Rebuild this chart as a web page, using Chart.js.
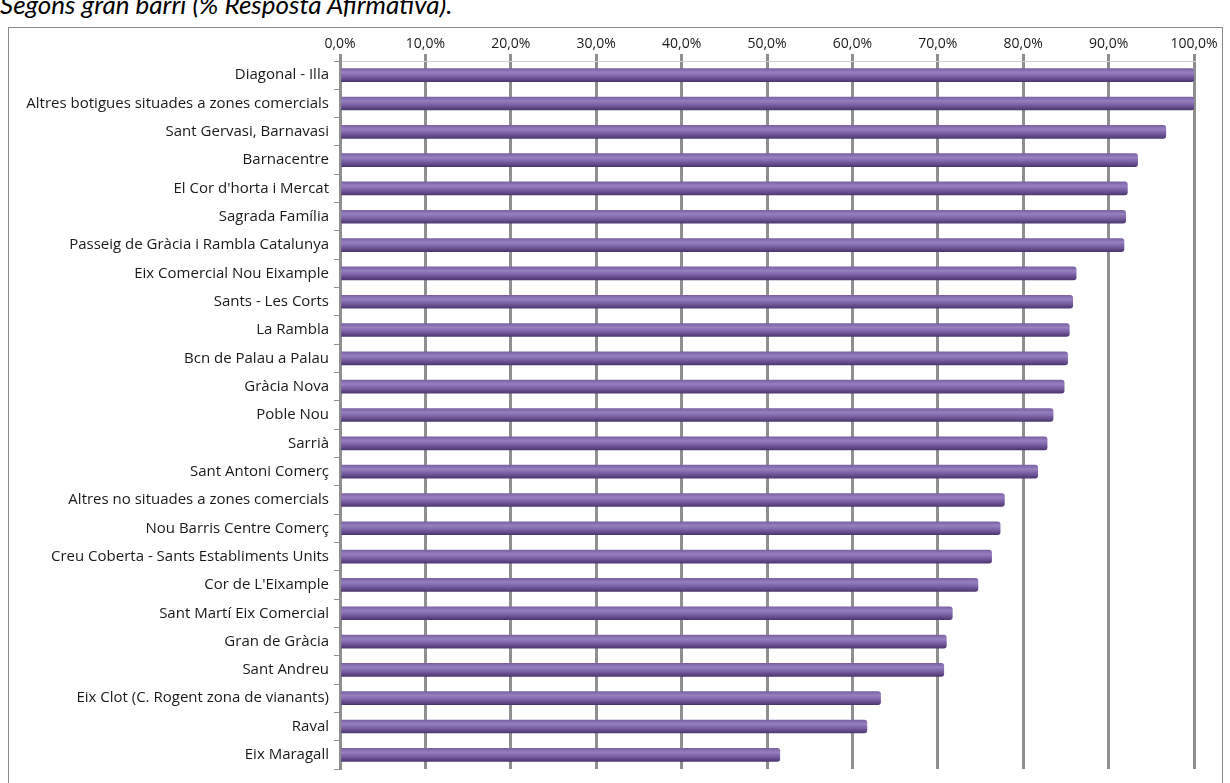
<!DOCTYPE html>
<html>
<head>
<meta charset="utf-8">
<script src="https://cdn.jsdelivr.net/npm/chart.js@4.4.1/dist/chart.umd.min.js"></script>
<style>
  body { margin: 0; background: #fff; overflow: hidden; }
  #wrap { position: relative; width: 1230px; height: 783px; }
  #title { position: absolute; left: 0; top: -12px; font: italic 26px Lato, sans-serif; color: #000; white-space: nowrap; }
  #box { position: absolute; left: 8px; top: 27px; width: 1213px; height: 800px; border: 1px solid #8a8a8a; }
  canvas { position: absolute; left: 0; top: 0; }
</style>
</head>
<body>
<div id="wrap">
  <div id="title">Segons gran barri (% Resposta Afirmativa).</div>
  <div id="box"></div>
  <canvas id="grafic" width="1230" height="783"></canvas>
</div>
<script>
const barris = [
  "Diagonal - Illa",
  "Altres botigues situades a zones comercials",
  "Sant Gervasi, Barnavasi",
  "Barnacentre",
  "El Cor d'horta i Mercat",
  "Sagrada Família",
  "Passeig de Gràcia i Rambla Catalunya",
  "Eix Comercial Nou Eixample",
  "Sants - Les Corts",
  "La Rambla",
  "Bcn de Palau a Palau",
  "Gràcia Nova",
  "Poble Nou",
  "Sarrià",
  "Sant Antoni Comerç",
  "Altres no situades a zones comercials",
  "Nou Barris Centre Comerç",
  "Creu Coberta - Sants Establiments Units",
  "Cor de L'Eixample",
  "Sant Martí Eix Comercial",
  "Gran de Gràcia",
  "Sant Andreu",
  "Eix Clot (C. Rogent zona de vianants)",
  "Raval",
  "Eix Maragall"
]
const afirmativa = [100, 100, 96.7, 93.4, 92.2, 92.0, 91.8, 86.2, 85.8, 85.4, 85.2, 84.8, 83.5, 82.8,
  81.7, 77.8, 77.3, 76.3, 74.7, 71.7, 71.0, 70.7, 63.3, 61.7, 51.5]
const ticksX = [0, 10, 20, 30, 40, 50, 60, 70, 80, 90, 100]

function barGradient(c) {
    const chart = c.chart
    const y = chart.scales.y
    if (!y || c.type !== 'data') return '#8064a2'
    const cy = y.getPixelForValue(c.dataIndex)
    if (!Number.isFinite(cy)) return '#8064a2'
    const g = chart.ctx.createLinearGradient(0, cy - 6.5, 0, cy + 6.5)
    g.addColorStop(0, '#7a62a3')
    g.addColorStop(0.3, '#9680c0')
    g.addColorStop(0.6, '#7c61a6')
    g.addColorStop(1, '#4c3870')
    return g
}

const grafic = new Chart("grafic", {
    type: "bar",
    data: {
        labels: barris,
        datasets: [{
            data: afirmativa,
            backgroundColor: barGradient,
            borderRadius: { topRight: 3, bottomRight: 3 },
            borderSkipped: 'start',
            barThickness: 13,
        }]
    },
    options: {
        indexAxis: 'y',
        responsive: false,
        animation: false,
        layout: { padding: { left: 10, right: 36, top: 30, bottom: 14 } },
        plugins: {
            legend: { display: false },
            tooltip: { enabled: false },
        },
        scales: {
            x: {
                position: 'top',
                min: 0,
                max: 100,
                afterBuildTicks: (s) => { s.ticks = ticksX.map(v => ({ value: v })) },
                afterFit: (s) => { s.height = 31 },
                ticks: {
                    color: '#1a1a1a',
                    font: { family: 'Open Sans', size: 14 },
                    padding: 2,
                    maxRotation: 0,
                    callback: (v) => v.toFixed(1).replace('.', ',') + '%',
                },
                grid: { color: '#8f8f8f', lineWidth: 3, tickLength: 7 },
                border: { display: true, color: '#cfcfcf', width: 1 },
            },
            y: {
                afterFit: (s) => { s.width = 330 },
                ticks: {
                    color: '#1a1a1a',
                    font: { family: 'Open Sans', size: 15 },
                    padding: 5,
                },
                grid: { drawOnChartArea: false, offset: true, tickLength: 6, color: '#8f8f8f', lineWidth: 1 },
                border: { display: true, color: '#8f8f8f', width: 3 },
            }
        }
    },
})
grafic.update()
</script>
</body>
</html>
